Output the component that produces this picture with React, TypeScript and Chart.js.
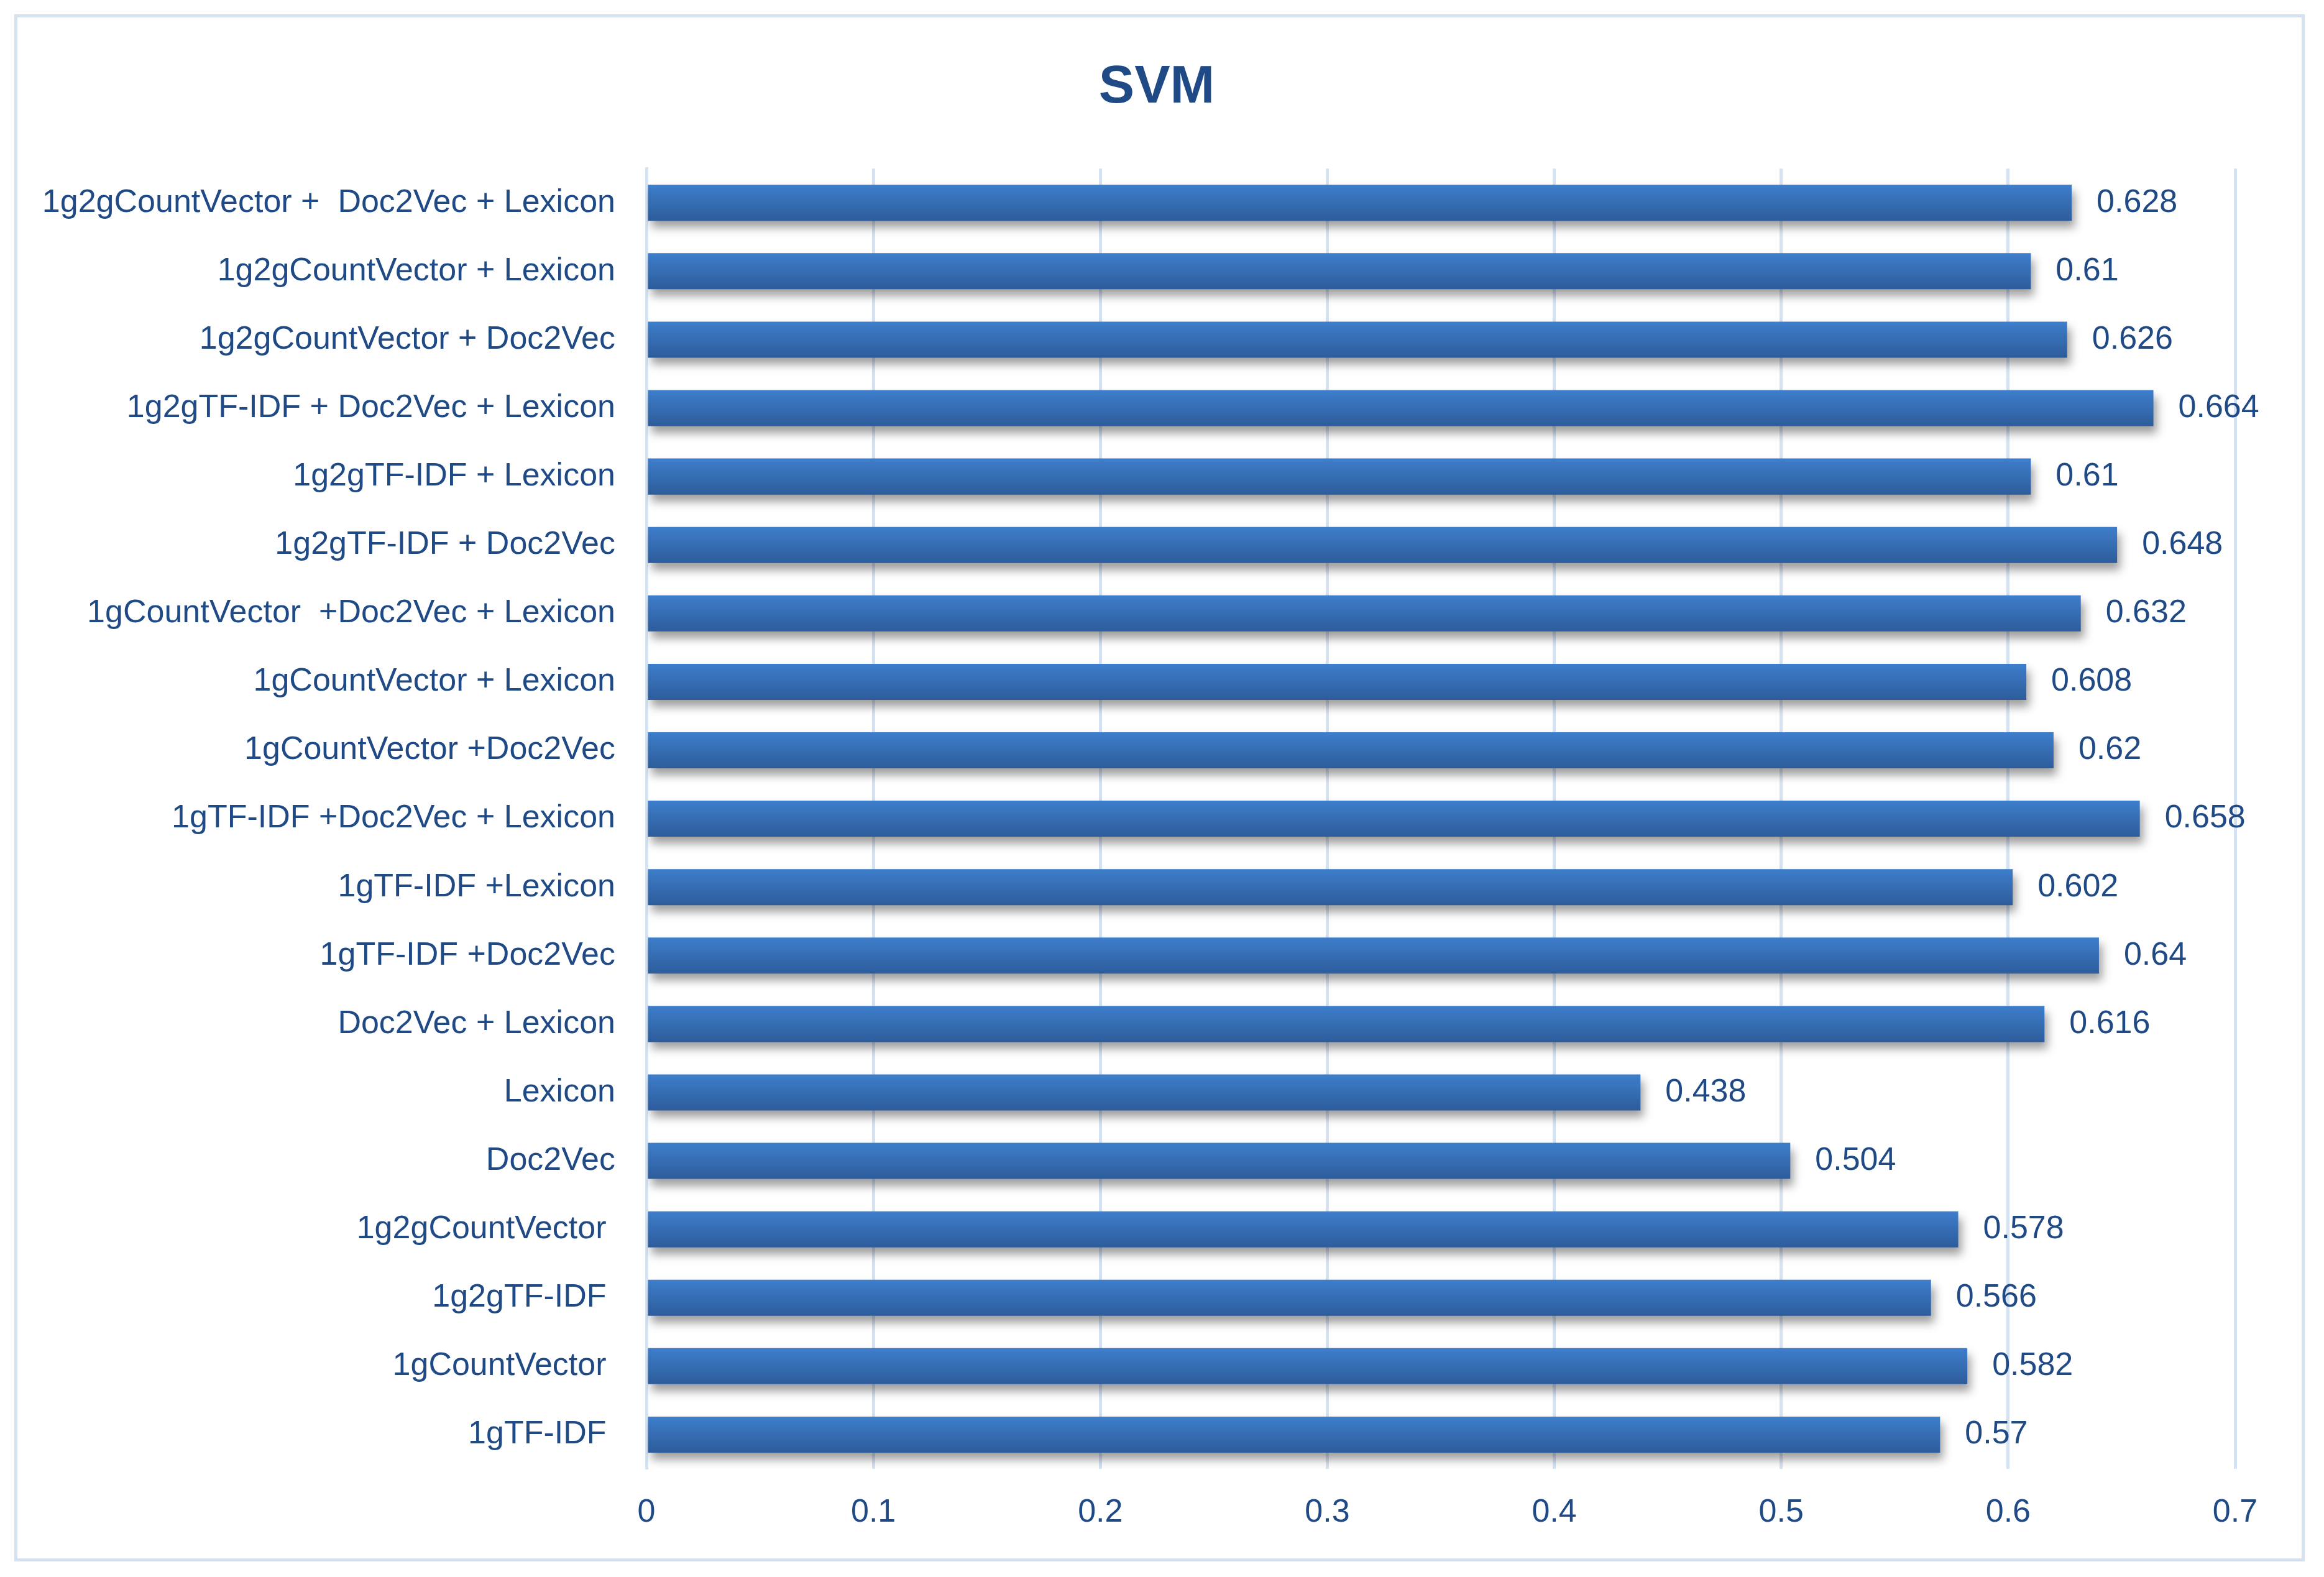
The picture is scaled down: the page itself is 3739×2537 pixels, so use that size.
import { useEffect, useRef } from "react"
import { Chart, registerables } from "chart.js"

Chart.register(...registerables)

const W = 3739
const H = 2537
const FONT = "'Liberation Sans', Arial, sans-serif"
const TEXT = "#1f4a85"
const GRID = "#d5e2f1"

// top to bottom, as in the picture
const categories = [
  "1g2gCountVector +  Doc2Vec + Lexicon",
  "1g2gCountVector + Lexicon",
  "1g2gCountVector + Doc2Vec",
  "1g2gTF-IDF + Doc2Vec + Lexicon",
  "1g2gTF-IDF + Lexicon",
  "1g2gTF-IDF + Doc2Vec",
  "1gCountVector  +Doc2Vec + Lexicon",
  "1gCountVector + Lexicon",
  "1gCountVector +Doc2Vec",
  "1gTF-IDF +Doc2Vec + Lexicon",
  "1gTF-IDF +Lexicon",
  "1gTF-IDF +Doc2Vec",
  "Doc2Vec + Lexicon",
  "Lexicon",
  "Doc2Vec",
  "1g2gCountVector ",
  "1g2gTF-IDF ",
  "1gCountVector ",
  "1gTF-IDF ",
]

const scores = [
  0.628, 0.61, 0.626, 0.664, 0.61, 0.648, 0.632, 0.608, 0.62, 0.658, 0.602,
  0.64, 0.616, 0.438, 0.504, 0.578, 0.566, 0.582, 0.57,
]

const xTicks = [0, 0.1, 0.2, 0.3, 0.4, 0.5, 0.6, 0.7]

const BAR_PCT = 0.527

// soft drop shadow under the bars, like the Excel style
const shadowPlugin = {
  id: "barShadow",
  beforeDatasetsDraw(chart: any) {
    const ctx = chart.ctx
    ctx.save()
    ctx.shadowColor = "rgba(0,0,0,0.38)"
    ctx.shadowBlur = 14
    ctx.shadowOffsetX = 5
    ctx.shadowOffsetY = 11
  },
  afterDatasetsDraw(chart: any) {
    chart.ctx.restore()
  },
}

// centre the title on the frame, not on the padded box
const titleShift = {
  id: "titleShift",
  afterLayout(chart: any) {
    const t = chart.titleBlock
    if (!t) return
    t.left += 63
    t.right += 63
  },
}

// value labels at the end of each bar
const valueLabels = {
  id: "valueLabels",
  afterDraw(chart: any) {
    const ctx = chart.ctx
    const meta = chart.getDatasetMeta(0)
    ctx.save()
    ctx.font = `52px ${FONT}`
    ctx.fillStyle = TEXT
    ctx.textAlign = "left"
    ctx.textBaseline = "middle"
    meta.data.forEach((bar: any, i: number) => {
      ctx.fillText(String(scores[i]), bar.x + 40, bar.y)
    })
    ctx.restore()
  },
}

export default function App() {
  const canvasRef = useRef<HTMLCanvasElement | null>(null)

  useEffect(() => {
    if (!canvasRef.current) return

    const chart = new Chart(canvasRef.current, {
      type: "bar",
      data: {
        labels: categories,
        datasets: [
          {
            data: scores,
            categoryPercentage: 1,
            barPercentage: BAR_PCT,
            borderWidth: 0,
            backgroundColor: (c: any) => {
              const { chart, dataIndex } = c
              const yScale = chart.scales?.y
              if (dataIndex === undefined || !yScale || !chart.chartArea) return "#3570b8"
              const mid = yScale.getPixelForValue(dataIndex)
              const half = (yScale.height / categories.length) * BAR_PCT / 2
              const g = chart.ctx.createLinearGradient(0, mid - half, 0, mid + half)
              g.addColorStop(0, "#3e7ecb")
              g.addColorStop(1, "#2d5c9b")
              return g
            },
          },
        ],
      },
      options: {
        indexAxis: "y",
        responsive: false,
        animation: false,
        devicePixelRatio: 1,
        layout: { padding: { top: 0, right: 143, bottom: 0, left: 0 } },
        plugins: {
          legend: { display: false },
          tooltip: { enabled: false },
          title: {
            display: true,
            text: "SVM",
            color: TEXT,
            font: { family: FONT, size: 86, weight: "bold" },
            padding: { top: 90, bottom: 78 },
          },
        },
        scales: {
          x: {
            min: 0,
            max: 0.7,
            afterFit: (s: any) => {
              s.height = 174
            },
            afterBuildTicks: (s: any) => {
              s.ticks = xTicks.map((v) => ({ value: v }))
            },
            grid: { color: GRID, lineWidth: 5, drawTicks: false },
            border: { display: false },
            ticks: {
              color: TEXT,
              padding: 39,
              font: { family: FONT, size: 52 },
              callback: (v: any) => String(Math.round(Number(v) * 10) / 10),
            },
          },
          y: {
            afterFit: (s: any) => {
              s.width = 1040
            },
            grid: { display: false, drawTicks: false },
            border: { display: true, color: GRID, width: 5 },
            ticks: {
              color: TEXT,
              padding: 50,
              autoSkip: false,
              font: { family: FONT, size: 52 },
            },
          },
        },
      },
      plugins: [shadowPlugin, titleShift, valueLabels],
    } as any)

    return () => chart.destroy()
  }, [])

  return (
    <div
      style={{
        position: "absolute",
        left: 0,
        top: 0,
        width: W,
        height: H,
        background: "#fff",
      }}
    >
      <div
        style={{
          position: "absolute",
          left: 23,
          top: 23,
          width: 3685,
          height: 2489,
          border: `5px solid ${GRID}`,
          boxSizing: "border-box",
        }}
      />
      <canvas
        ref={canvasRef}
        width={W}
        height={H}
        style={{ position: "absolute", left: 0, top: 0, width: W, height: H }}
      />
    </div>
  )
}
